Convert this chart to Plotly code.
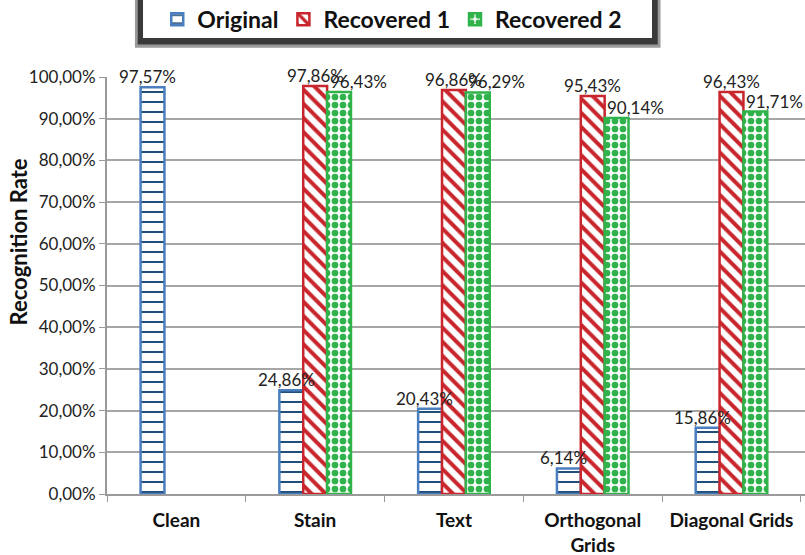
import plotly.graph_objects as go

categories = ["Clean", "Stain", "Text", "Orthogonal<br>Grids", "Diagonal Grids"]
original = [97.57, 24.86, 20.43, 6.14, 15.86]
recovered1 = [None, 97.86, 96.86, 95.43, 96.43]
recovered2 = [None, 96.43, 96.29, 90.14, 91.71]
tick_vals = [0, 10, 20, 30, 40, 50, 60, 70, 80, 90, 100]
tick_text = ["0,00%", "10,00%", "20,00%", "30,00%", "40,00%", "50,00%",
             "60,00%", "70,00%", "80,00%", "90,00%", "100,00%"]
y_title = "Recognition Rate"


def fmt(v):
    return ("%.2f%%" % v).replace(".", ",")


FONT = "Lato, 'Open Sans', sans-serif"
# name, values, outline, pattern colour, shape, size, solidity, label x-shift
series = [
    ("Original", original, "#4a7ebf", "#1f4e79", "-", 10, 0.2, -29),
    ("Recovered 1", recovered1, "#c8262c", "#c8262c", "\\", 10, 0.4, 0),
    ("Recovered 2", recovered2, "#2fb34a", "#2fb34a", ".", 8, 0.55, 43),
]

fig = go.Figure()
for name, vals, line_c, pat_c, shape, size, sol, xs in series:
    fig.add_trace(go.Bar(
        name=name, x=categories, y=vals,
        marker=dict(color="white", line=dict(color=line_c, width=2.5),
                    pattern=dict(shape=shape, fgcolor=pat_c, bgcolor="white",
                                 size=size, solidity=sol, fillmode="replace")),
    ))
    for c, v in zip(categories, vals):
        if v is None:
            continue
        fig.add_annotation(x=c, y=v, xref="x", yref="y", text=fmt(v),
                           showarrow=False, yanchor="bottom", xshift=xs, yshift=-2,
                           font=dict(family=FONT, size=17, color="#222"))

fig.add_annotation(x=-0.127, y=0.604, xref="paper", yref="paper", text=y_title,
                   textangle=-90, showarrow=False, xanchor="center", yanchor="middle",
                   font=dict(family=FONT, size=22, color="#111", weight="bold"))

# legend box with shadow (paper coords)
fig.add_shape(type="rect", xref="paper", yref="paper",
              x0=0.040, x1=0.793, y0=1.070, y1=1.19,
              fillcolor="#9a9a9a", line=dict(width=0), layer="above")
fig.add_shape(type="rect", xref="paper", yref="paper",
              x0=0.044, x1=0.789, y0=1.078, y1=1.19,
              fillcolor="#3a3a3a", line=dict(width=0), layer="above")
fig.add_shape(type="rect", xref="paper", yref="paper",
              x0=0.0516, x1=0.7808, y0=1.0935, y1=1.19,
              fillcolor="white", line=dict(width=0), layer="above")

fig.update_layout(
    width=805, height=555,
    margin=dict(l=107, r=0, t=77, b=61, autoexpand=False),
    paper_bgcolor="white", plot_bgcolor="white",
    barmode="group", bargap=0.484, bargroupgap=0,
    font=dict(family=FONT, color="#222"),
    showlegend=True,
    legend=dict(orientation="h", x=0.072, xanchor="left", y=1.19, yanchor="top",
                bgcolor="rgba(0,0,0,0)", borderwidth=0,
                font=dict(family=FONT, size=23, color="#111", weight="bold"),
                itemwidth=30),
    xaxis=dict(showline=True, linecolor="#9a9a9a", linewidth=2,
               ticks="outside", tickson="boundaries", ticklen=6, tickcolor="#9a9a9a",
               ticklabelstandoff=8,
               tickfont=dict(family=FONT, size=19, color="#111", weight="bold"),
               showgrid=False),
    yaxis=dict(range=[0, 100], tickvals=tick_vals, ticktext=tick_text,
               showgrid=True, gridcolor="#a6a6a6", gridwidth=2,
               showline=True, linecolor="#9a9a9a", linewidth=2,
               ticks="outside", ticklen=6, tickcolor="#9a9a9a",
               tickfont=dict(family=FONT, size=17, color="#222"),
               zeroline=False),
)

fig.write_html("out.html", config={"displayModeBar": False},
               post_script="document.body.style.margin='0';document.body.style.overflow='hidden';")
